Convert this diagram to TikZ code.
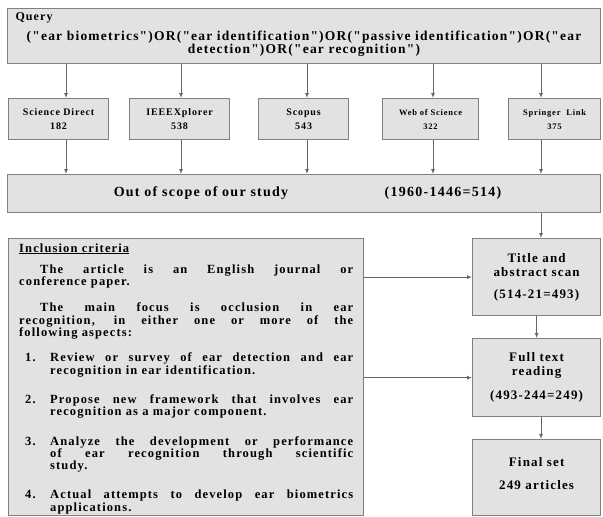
\documentclass[tikz,border=0pt]{standalone}
\usepackage{fontspec}
\setmainfont{Liberation Serif}[LetterSpace=9,Ligatures=TeXOff]
\usetikzlibrary{arrows.meta}

\definecolor{boxfill}{HTML}{E2E2E2}
\definecolor{boxline}{HTML}{808080}
\definecolor{arrline}{HTML}{666666}

\tikzset{
  box/.style={draw=boxline,fill=boxfill,line width=1.2pt,inner sep=0pt,anchor=north west},
  arr/.style={draw=arrline,line width=0.9pt,-{Latex[length=5pt,width=4pt]}},
  big/.style={font=\bfseries\fontsize{13}{14}\selectfont,align=center}
}

\begin{document}
\begin{tikzpicture}[x=1pt,y=-1pt]
\useasboundingbox (0,0) rectangle (603,517);

% query
\node[box,minimum width=593,minimum height=55] (Q) at (7,8) {};
\node[anchor=west,font=\bfseries\fontsize{12}{12}\selectfont] (Q-head) at (12,18) {Query};
\node[font=\bfseries\fontsize{13.5}{13}\selectfont,align=center] (Q-text) at (304,44)
  {("ear biometrics")OR("ear identification")OR("passive identification")OR("ear\\
   detection")OR("ear recognition")};

% out of scope
\node[box,minimum width=593,minimum height=38] (O) at (7,174) {};
\node[big,font=\bfseries\fontsize{14}{14}\selectfont] (O-text) at (201,193) {Out of scope of our study};
\node[big,font=\bfseries\fontsize{14}{14}\selectfont] (O-num) at (443,193) {(1960-1446=514)};

% sources
\foreach \n/\xl/\w/\xa/\src/\num/\fs in {1/8/100/66/Science Direct/182/10,
  2/129/100/181/IEEEXplorer/538/10, 3/258/90/307/Scopus/543/10,
  4/382/96/433/Web of Science/322/8.5, 5/508/92/541/Springer\ \ Link/375/8.5} {
  \node[box,minimum width=\w,minimum height=41,align=center,
    font=\bfseries\fontsize{\fs}{14}\selectfont] (S-\n) at (\xl,98) {\src\\\num};
  \coordinate (A-\n) at (\xa,0);
  \draw[arr] (Q.south -| A-\n) -- (S-\n.north -| A-\n);
  \draw[arr] (S-\n.south -| A-\n) -- (O.north -| A-\n);
};

% screening
\node[box,big,minimum width=128,minimum height=77] (T) at (472,238)
  {Title and\\abstract scan\\[8pt](514-21=493)};
\node[box,big,minimum width=128,minimum height=78] (F) at (472,338)
  {Full text\\reading\\[10pt](493-244=249)};
\node[box,big,minimum width=128,minimum height=76] (E) at (472,439)
  {Final set\\[9pt]249 articles\\[-6pt]\mbox{}};

\draw[arr] (O.south -| A-5) -- (T.north -| A-5);
\draw[arr] (T) -- (F);
\draw[arr] (F.south -| A-5) -- (E.north -| A-5);

% inclusion criteria
\node[box,minimum width=355,minimum height=277] (I) at (8,238) {};
\node[anchor=base west,text width=334pt,align=justify,inner sep=0pt,
  font=\bfseries\fontsize{12.5}{12.3}\selectfont] (I-text) at (19,252) {%
  \underline{Inclusion criteria}\par\vspace{9pt}
  \hspace*{21pt}The article is an English journal or\linebreak
  conference paper.\par\vspace{14pt}
  \hspace*{21pt}The main focus is occlusion in ear\linebreak
  recognition, in either one or more of the\linebreak
  following aspects:\par\vspace{13pt}
  \hangindent=31pt\hangafter=1\noindent\hspace*{6pt}\makebox[25pt][l]{1.}Review or survey of ear detection and ear\linebreak
  recognition in ear identification.\par\vspace{17pt}
  \hangindent=31pt\hangafter=1\noindent\hspace*{6pt}\makebox[25pt][l]{2.}Propose new framework that involves ear\linebreak
  recognition as a major component.\par\vspace{17pt}
  \hangindent=31pt\hangafter=1\noindent\hspace*{6pt}\makebox[25pt][l]{3.}Analyze the development or performance\linebreak
  of ear recognition through scientific\linebreak
  study.\par\vspace{17pt}
  \hangindent=31pt\hangafter=1\noindent\hspace*{6pt}\makebox[25pt][l]{4.}Actual attempts to develop ear biometrics\linebreak
  applications.\par};

\draw[arr] (I.east |- T) -- (T.west);
\draw[arr] (I.east |- F) -- (F.west);
\end{tikzpicture}
\end{document}
